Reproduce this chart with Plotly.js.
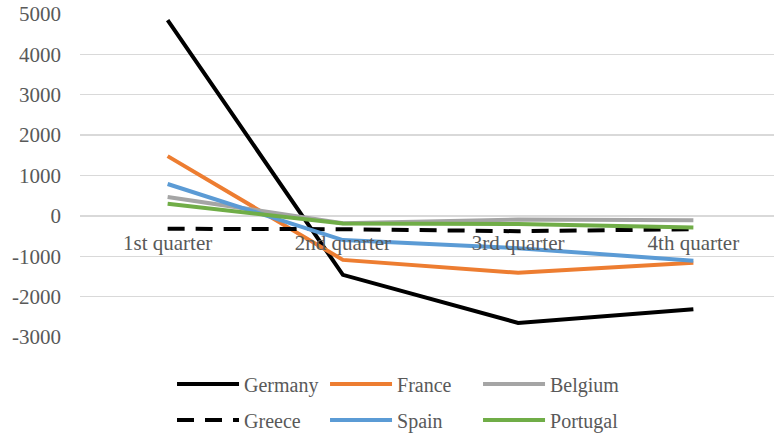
<!DOCTYPE html>
<html>
<head>
<meta charset="utf-8">
<script src="https://cdn.plot.ly/plotly-3.0.1.min.js"></script>
<style>html,body{margin:0;padding:0;background:#fff;}#chart{width:774px;height:434px;}</style>
</head>
<body>
<div id="chart"></div>
<script>
const quarters = ["1st quarter", "2nd quarter", "3rd quarter", "4th quarter"];
const germany  = [4850, -1460, -2650, -2310];
const france   = [1480, -1090, -1410, -1160];
const belgium  = [470, -180, -90, -110];
const greece   = [-320, -330, -380, -330];
const spain    = [790, -600, -800, -1110];
const portugal = [300, -190, -200, -290];
const yTicks   = [-3000, -2000, -1000, 0, 1000, 2000, 3000, 4000, 5000];

const series = [
  {name: "Germany",  y: germany,  color: "#000000", dash: "solid",     legend: "legend"},
  {name: "France",   y: france,   color: "#ED7D31", dash: "solid",     legend: "legend"},
  {name: "Belgium",  y: belgium,  color: "#A5A5A5", dash: "solid",     legend: "legend"},
  {name: "Greece",   y: greece,   color: "#000000", dash: "17px,11px", legend: "legend2"},
  {name: "Spain",    y: spain,    color: "#5B9BD5", dash: "solid",     legend: "legend2"},
  {name: "Portugal", y: portugal, color: "#70AD47", dash: "solid",     legend: "legend2"}
];

const traces = series.map(s => ({
  type: "scatter", mode: "lines", name: s.name, x: quarters, y: s.y, legend: s.legend,
  line: {color: s.color, width: 4, dash: s.dash}
}));

const font = {family: "Liberation Serif", size: 21, color: "#595959"};
const legendFont = {family: "Liberation Serif", size: 20, color: "#595959"};

const legendBase = {
  orientation: "h", x: 0.1326, xanchor: "left", yanchor: "middle", yref: "container",
  entrywidth: 76, font: legendFont, itemwidth: 62, bgcolor: "rgba(0,0,0,0)"
};

const layout = {
  width: 774, height: 434,
  margin: {l: 80, r: 0, t: 14, b: 97},
  paper_bgcolor: "#fff", plot_bgcolor: "#fff",
  font: font,
  showlegend: true,
  xaxis: {
    type: "category", range: [-0.5, 3.46], anchor: "free", position: 0.375,
    showgrid: false, showline: false, zeroline: false, ticks: "",
    ticklabelstandoff: 12, tickfont: font
  },
  yaxis: {
    range: [-3000, 5000], tickvals: yTicks, ticktext: yTicks.map(String),
    showgrid: true, gridcolor: "#D9D9D9", gridwidth: 1.3,
    zeroline: true, zerolinecolor: "#D9D9D9", zerolinewidth: 1.3,
    showline: false, ticks: "", ticklabelstandoff: 18, tickfont: font
  },
  legend: Object.assign({}, legendBase, {y: 0.1152}),
  legend2: Object.assign({}, legendBase, {y: 0.0323})
};

Plotly.newPlot("chart", traces, layout, {displayModeBar: false, staticPlot: true});
</script>
</body>
</html>
